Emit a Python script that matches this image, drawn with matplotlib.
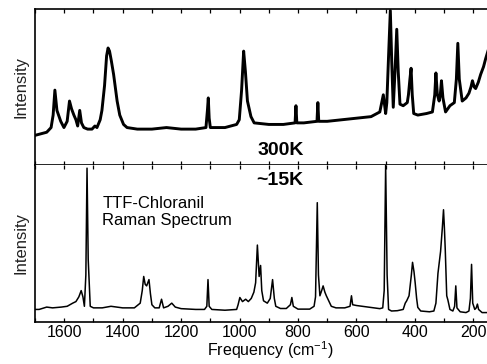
import numpy as np
import matplotlib
matplotlib.use('Agg')
import matplotlib.pyplot as plt
from matplotlib.ticker import MultipleLocator

plt.rcParams['font.family'] = ['Liberation Sans', 'DejaVu Sans']
plt.rcParams['mathtext.fontset'] = 'custom'
plt.rcParams['mathtext.rm'] = 'Liberation Sans'

# 300K spectrum (intensity in % of panel height)
freq_300k = [1700, 1680, 1660, 1645, 1638, 1632, 1625, 1612, 1601, 1590, 1582, 1575,
             1567, 1560, 1554, 1547, 1541, 1533, 1520, 1505, 1495, 1488, 1477, 1471,
             1462, 1455, 1450, 1445, 1439, 1431, 1419, 1410, 1397, 1385, 1350, 1300,
             1250, 1200, 1150, 1115, 1110, 1107, 1104, 1100, 1050, 1010, 1001, 993,
             986, 980, 973, 961, 950, 900, 850, 810, 807, 804, 780, 735, 732, 729,
             700, 650, 600, 550, 520, 508, 500, 496, 490, 484, 479, 474, 468, 462,
             457, 451, 440, 426, 422, 417, 413, 409, 404, 390, 360, 340, 332, 328,
             323, 317, 313, 309, 304, 295, 280, 265, 258, 253, 248, 238, 225, 215,
             208, 203, 197, 192, 183, 175, 165, 158, 150]
int_300k = [19, 20, 21, 24, 32, 48, 35, 28, 24, 28, 41, 36,
            32, 29, 25, 35, 27, 24, 23, 23, 25, 24, 29, 35,
            51, 70, 75, 73, 67, 58, 41, 32, 26, 24, 23, 23,
            24, 23, 23, 24, 35, 43, 30, 24, 24, 26, 29, 48,
            73, 60, 41, 31, 27, 26, 26, 27, 38, 27, 27, 28, 40, 28,
            28, 29, 30, 31, 34, 45, 33, 40, 70, 99, 65, 37, 60, 87,
            60, 39, 38, 40, 45, 55, 62, 45, 33, 32, 33, 34, 45, 59,
            45, 41, 45, 54, 43, 34, 38, 40, 55, 78, 55, 41, 43, 46,
            50, 54, 50, 49, 53, 58, 63, 68, 73]

# ~15K spectrum
freq_15k = [1700, 1686, 1660, 1640, 1610, 1590, 1571, 1560, 1550, 1542, 1536, 1531,
            1526, 1522, 1518, 1511, 1500, 1470, 1440, 1400, 1360, 1340, 1333, 1328,
            1323, 1318, 1310, 1305, 1300, 1290, 1275, 1267, 1260, 1245, 1232, 1220,
            1200, 1150, 1120, 1112, 1108, 1104, 1095, 1050, 1010, 1005, 999, 990,
            979, 970, 960, 951, 945, 939, 933, 928, 924, 918, 905, 895, 887, 881,
            876, 860, 840, 826, 821, 816, 800, 760, 745, 740, 734, 730, 725, 719,
            714, 708, 703, 686, 670, 640, 622, 617, 613, 600, 560, 520, 510, 505,
            500, 495, 490, 480, 460, 440, 433, 428, 420, 412, 408, 403, 399, 394,
            390, 380, 350, 335, 328, 321, 312, 306, 302, 299, 296, 291, 287, 280,
            270, 264, 260, 256, 245, 225, 215, 210, 206, 202, 195, 190, 186, 182,
            170, 150]
int_15k = [8, 8, 9.5, 9, 9.5, 10, 12, 13, 16, 20, 16, 10,
           30, 98, 40, 10, 9, 9, 10, 9, 9, 12, 20, 29,
           24, 23, 27, 18, 11, 9, 9, 14.5, 9, 10, 12, 9.5,
           8.5, 8, 8, 10, 27, 10, 8, 7.5, 8, 11, 15.6, 13,
           14.5, 13, 15, 19, 25, 49, 29, 36, 20, 13.5, 12, 15, 27, 15,
           10, 8.6, 8.6, 11, 15.6, 10, 8.2, 8.2, 10, 16, 76, 30, 16.7, 20,
           23, 19, 16.7, 10, 9, 9, 10, 16.7, 11, 10.5, 9.5, 8.5, 9, 20,
           100, 30, 8, 7, 7.2, 8, 12, 13.5, 16.7, 30, 38, 32, 25, 15,
           9.3, 7, 6.5, 7, 12, 31, 45, 60, 71.5, 60, 46, 16.7, 14, 8,
           7, 10, 23, 9, 6.5, 6, 7, 15, 36.7, 12, 8, 9, 11.4, 8,
           6, 6]

fig = plt.figure(figsize=(4.87, 3.64), dpi=100)
ax1 = fig.add_axes([0.0719, 0.5467, 0.93, 0.4286])
ax2 = fig.add_axes([0.0719, 0.1154, 0.93, 0.4313])

ax1.plot(freq_300k, int_300k, color='black', lw=2.1, solid_joinstyle='round')
ax2.plot(freq_15k, int_15k, color='black', lw=1.1)

for ax in (ax1, ax2):
    ax.set_xlim(1700, 150)
    ax.set_ylim(0, 100)
    ax.xaxis.set_major_locator(MultipleLocator(200))
    ax.xaxis.set_minor_locator(MultipleLocator(100))
    ax.set_yticks([])
    ax.spines['right'].set_visible(False)
    for s in ax.spines.values():
        s.set_linewidth(1.2)
    ax.tick_params(axis='x', which='both', direction='in', top=True, bottom=True,
                   length=3, width=0.9, labelsize=11.5, pad=2)
    ax.set_ylabel('Intensity', fontsize=12, color='#222222', labelpad=5)

ax1.tick_params(axis='x', which='both', labelbottom=False)
ax2.spines['top'].set_visible(False)
fig.text(270 / 487, 1 - 350 / 364, r'Frequency (cm$^{-1}$)', fontsize=11.5,
         ha='center', va='center')

ax1.text(858, 9, '300K', fontsize=14, fontweight='bold', ha='center', va='center')
ax2.text(862, 90, '~15K', fontsize=14, fontweight='bold', ha='center', va='center')
ax2.text(1470, 80, 'TTF-Chloranil\nRaman Spectrum', fontsize=12, ha='left', va='top',
         linespacing=1.1)

fig.savefig('out.png', dpi=100)
